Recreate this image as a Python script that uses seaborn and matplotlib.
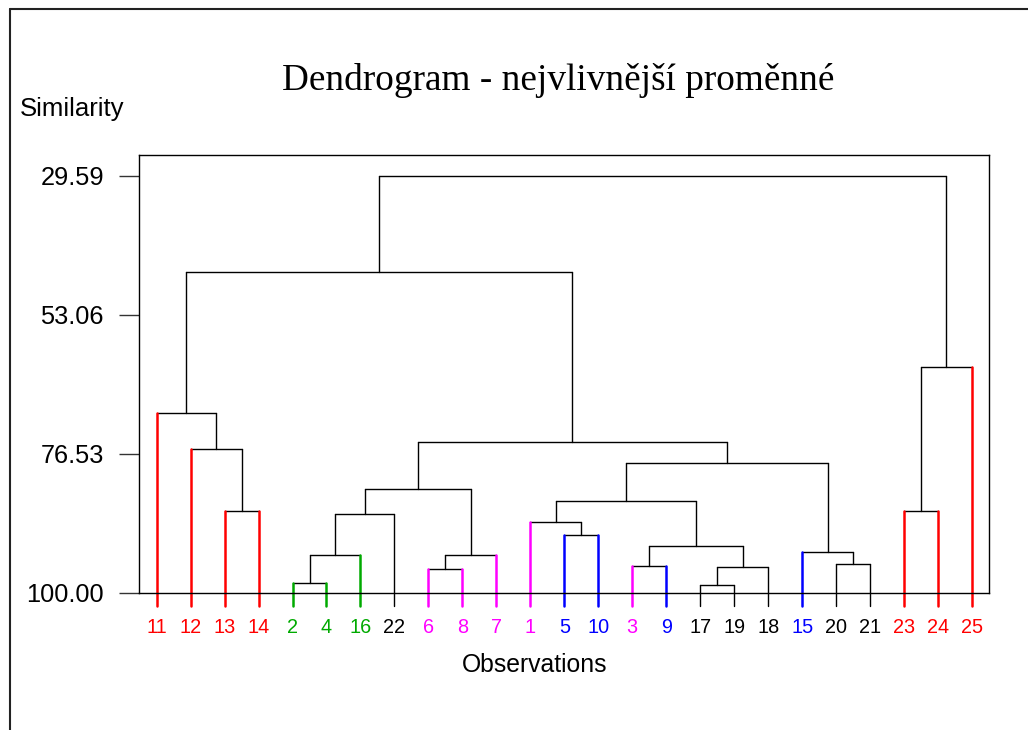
import matplotlib
matplotlib.use("Agg")
import matplotlib.pyplot as plt
import numpy as np
import pandas as pd
import seaborn as sns
from matplotlib.lines import Line2D

# ---------------- data ----------------
title = "Dendrogram - nejvlivnější proměnné"
y_label = "Similarity"
x_label = "Observations"

leaf_labels = [11, 12, 13, 14, 2, 4, 16, 22, 6, 8, 7, 1, 5, 10, 3, 9,
               17, 19, 18, 15, 20, 21, 23, 24, 25]
leaf_colors = ["red", "red", "red", "red", "green", "green", "green", "black",
               "magenta", "magenta", "magenta", "magenta", "blue", "blue",
               "magenta", "blue", "black", "black", "black", "blue",
               "black", "black", "red", "red", "red"]

node_names = ["A", "B", "C", "D", "E", "F", "G", "H", "I", "J", "K", "L",
              "M", "N", "O", "P", "Q", "R", "S", "T", "U", "V", "W", "X"]
node_left = [2, "A", "B", 6, "D", "C", 5, 1, 3, 17, "J", "I",
             "H", 20, 15, "M", "F", 13, 12, 11, "T", 23, "V", "U"]
node_right = [4, 16, 22, 8, 7, "E", 10, "G", 9, 19, 18, "K",
              "L", 21, "N", "O", "P", 14, "R", "S", "Q", 24, 25, "W"]
node_similarity = [98.36, 93.58, 86.71, 96.05, 93.68, 82.49, 90.21, 88.06,
                   95.49, 98.65, 95.71, 92.06, 84.57, 95.20, 93.13, 78.05,
                   74.55, 86.25, 75.68, 69.60, 45.80, 86.25, 61.84, 29.59]

y_ticks = [29.59, 53.06, 76.53, 100.00]

# ---------------- styling ----------------
palette = {"red": "#FF0000", "green": "#00AA00", "magenta": "#FF00FF",
           "blue": "#0000FF", "black": "#000000"}
stem_bottom = 102.25
y_top = 26.14

sns.set_theme(style="white")
plt.rcParams["font.family"] = ["Liberation Sans", "DejaVu Sans"]
plt.rcParams["text.color"] = "black"
plt.rcParams["axes.labelcolor"] = "black"

# ---------------- build segments ----------------
pos = {lab: i + 1 for i, lab in enumerate(leaf_labels)}
height = {lab: stem_bottom for lab in leaf_labels}
col = dict(zip(leaf_labels, leaf_colors))

rows = []
seg = 0
for name, l, r, h in zip(node_names, node_left, node_right, node_similarity):
    xl, xr = pos[l], pos[r]
    rows += [(seg, xl, h, "black"), (seg, xr, h, "black")]
    seg += 1
    for child, xc in ((l, xl), (r, xr)):
        c = col[child] if child in col else "black"
        rows += [(seg, xc, height[child], c), (seg, xc, h, c)]
        seg += 1
    pos[name] = (xl + xr) / 2.0
    height[name] = h

df = pd.DataFrame(rows, columns=["seg", "x", "y", "color"])
df_black = df[df["color"] == "black"]
df_col = df[df["color"] != "black"]

# ---------------- figure ----------------
fig = plt.figure(figsize=(10.28, 7.30), dpi=100)
ax = fig.add_axes([139.3 / 1028, 1 - 592.7 / 730, 850 / 1028, 437.4 / 730])

sns.lineplot(data=df_black, x="x", y="y", units="seg", estimator=None,
             sort=False, color="black", lw=1.0, clip_on=False, ax=ax)
sns.lineplot(data=df_col, x="x", y="y", units="seg", hue="color",
             palette=palette, estimator=None, sort=False, lw=1.8,
             clip_on=False, legend=False, ax=ax)

ax.set_xlim(0.49, 25.51)
ax.set_ylim(100, y_top)

for s in ax.spines.values():
    s.set_visible(True)
    s.set_color("black")
    s.set_linewidth(1.0)

ax.set_yticks(y_ticks, labels=[f"{v:.2f}" for v in y_ticks])
ax.tick_params(axis="y", left=True, length=14.4, width=1.0, color="#333333",
               pad=11.0, labelsize=18.3, labelcolor="black")
ax.set_xticks(range(1, len(leaf_labels) + 1),
              labels=[str(v) for v in leaf_labels])
ax.tick_params(axis="x", bottom=False, length=0, pad=18.0, labelsize=14.3)
for t, c in zip(ax.get_xticklabels(), leaf_colors):
    t.set_color(palette[c])

ax.set_xlabel(x_label, fontsize=17.8)
ax.xaxis.set_label_coords(0.465, -0.1370)
ax.set_ylabel(y_label, fontsize=18.5, rotation=0, ha="left", va="center")
ax.yaxis.set_label_coords(-0.1410, 1.1060)

fig.text(558 / 1028, 1 - 80 / 730, title, ha="center", va="center",
         fontsize=26.8, color="black", family=["Liberation Serif", "DejaVu Serif"])

# figure frame (left and top edges)
fig.add_artist(Line2D([10 / 1028, 10 / 1028], [0, 1 - 9 / 730],
                      transform=fig.transFigure, color="#222222", lw=1.5))
fig.add_artist(Line2D([10 / 1028, 1], [1 - 9 / 730, 1 - 9 / 730],
                      transform=fig.transFigure, color="#222222", lw=1.5))

fig.savefig("out.png", dpi=100)
